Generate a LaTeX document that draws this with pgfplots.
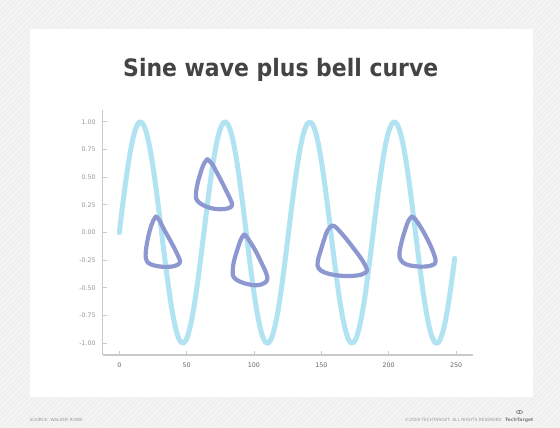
\documentclass[border=0pt]{standalone}
\usepackage{fontspec}
\setmainfont{DejaVu Sans}
\usepackage{graphicx}
\usepackage{pgfplots}
\pgfplotsset{compat=1.18}

\definecolor{bggray}{HTML}{EFEFEF}
\definecolor{titlegray}{HTML}{444444}
\definecolor{sineblue}{HTML}{B2E3F3}
\definecolor{bellpurple}{HTML}{8E98D0}
\definecolor{axisgray}{HTML}{CACACA}
\definecolor{ylabgray}{HTML}{999999}
\definecolor{xlabgray}{HTML}{666666}
\definecolor{footgray}{HTML}{9A9A9A}

\begin{document}
\begin{tikzpicture}[x=1pt,y=1pt]
% background with faint diagonal stripes
\fill[bggray] (0,0) rectangle (560,428);
\begin{scope}
  \clip (0,0) rectangle (560,428);
  \foreach \i in {-430,-425,...,560}
    \draw[white, opacity=0.45, line width=1.2pt] (\i,0) -- ++(428,428);
\end{scope}
\fill[white] (29.5,31) rectangle (533,399);

% title
\node[anchor=base, text=titlegray, inner sep=0pt] at (280.7,351.3)
  {\resizebox{315pt}{\height}{\fontsize{24}{28}\selectfont\bfseries Sine wave plus bell curve}};

% footer
\node[anchor=base west, inner sep=0pt, text=footgray, font=\fontsize{4.3}{5}\selectfont] at (29.5,6.5) {SOURCE: WALKER ROWE};
\node[anchor=base east, inner sep=0pt, text=footgray, font=\fontsize{4.3}{5}\selectfont] at (502,6.5) {\textcopyright 2019 TECHTARGET. ALL RIGHTS RESERVED};
\node[anchor=base west, inner sep=0pt, text=gray, font=\fontsize{4.6}{5}\selectfont\bfseries] at (505,6.5) {TechTarget};
\draw[gray, line width=0.6pt] (519.5,16) ellipse (3.2 and 1.6);
\fill[gray] (519.5,16) circle (0.9);

\begin{axis}[
    at={(102.7pt,73pt)}, anchor=south west,
    scale only axis,
    width=370.3pt, height=245pt,
    xmin=-12.3, xmax=262.6,
    ymin=-1.106, ymax=1.108,
    axis x line*=bottom, axis y line*=left,
    axis line style={axisgray, line width=1.2pt},
    tick style={axisgray, line width=0.9pt},
    tick align=inside,
    major tick length=4pt,
    xtick={0,50,...,250},
    ytick={-1,-0.75,...,1},
    /pgf/number format/assume math mode=true,
    yticklabel style={/pgf/number format/.cd, fixed, fixed zerofill, precision=2, /tikz/.cd,
      font=\fontsize{6.3}{7}\selectfont, text=ylabgray, xshift=-3.5pt},
    xticklabel style={font=\fontsize{6.3}{7}\selectfont, text=xlabgray, yshift=-4.4pt},
    clip=false,
  ]
  \addplot[sineblue, line width=5pt, line cap=round, line join=round, smooth] coordinates {
    (0,0) (2,0.1987) (4,0.3894) (6,0.5646) (8,0.7174) (10,0.8415) (12,0.9320) (14,0.9854)
    (16,0.9996) (18,0.9738) (20,0.9093) (22,0.8085) (24,0.6755) (26,0.5155) (28,0.3350)
    (30,0.1411) (32,-0.0584) (34,-0.2555) (36,-0.4425) (38,-0.6119) (40,-0.7568) (42,-0.8716)
    (44,-0.9516) (46,-0.9937) (48,-0.9962) (50,-0.9589) (52,-0.8835) (54,-0.7728) (56,-0.6313)
    (58,-0.4646) (60,-0.2794) (62,-0.0831) (64,0.1165) (66,0.3115) (68,0.4941) (70,0.6570)
    (72,0.7937) (74,0.8987) (76,0.9679) (78,0.9985) (80,0.9894) (82,0.9407) (84,0.8546)
    (86,0.7344) (88,0.5849) (90,0.4121) (92,0.2229) (94,0.0248) (96,-0.1743) (98,-0.3665)
    (100,-0.5440) (102,-0.6999) (104,-0.8278) (106,-0.9228) (108,-0.9809) (110,-1.0000)
    (112,-0.9792) (114,-0.9193) (116,-0.8228) (118,-0.6935) (120,-0.5366) (122,-0.3582)
    (124,-0.1656) (126,0.0336) (128,0.2315) (130,0.4202) (132,0.5921) (134,0.7404)
    (136,0.8592) (138,0.9437) (140,0.9906) (142,0.9980) (144,0.9656) (146,0.8950)
    (148,0.7887) (150,0.6503) (152,0.4864) (154,0.3035) (156,0.1078) (158,-0.0918)
    (160,-0.2879) (162,-0.4718) (164,-0.6378) (166,-0.7777) (168,-0.8860) (170,-0.9614)
    (172,-0.9969) (174,-0.9927) (176,-0.9488) (178,-0.8674) (180,-0.7510) (182,-0.6094)
    (184,-0.4346) (186,-0.2474) (188,-0.0496) (190,0.1499) (192,0.3433) (194,0.5231)
    (196,0.6819) (198,0.8136) (200,0.9129) (202,0.9758) (204,0.9998) (206,0.9839)
    (208,0.9290) (210,0.8367) (212,0.7117) (214,0.5573) (216,0.3813) (218,0.1897)
    (220,-0.0089) (222,-0.2073) (224,-0.3972) (226,-0.5713) (228,-0.7226) (230,-0.8462)
    (232,-0.9347) (234,-0.9870) (236,-0.9998) (238,-0.9718) (240,-0.9056) (242,-0.8041)
    (244,-0.6695) (246,-0.5077) (248,-0.3268) (249,-0.2324)
  };
  % bell curve loops
  \pgfplotsset{bell/.style={bellpurple, line width=4.2pt, line cap=round, line join=round, smooth, tension=0.7}}
  \addplot[bell] coordinates {
    (27.2,0.145) (25.2,0.108) (22.8,0.024) (20.8,-0.081) (19.6,-0.187) (20.3,-0.253)
    (23.3,-0.286) (29.0,-0.304) (35.1,-0.310) (41.3,-0.301) (45.0,-0.271) (44.1,-0.223)
    (41.3,-0.151) (37.6,-0.066) (33.2,0.030) (29.7,0.114) (27.2,0.145)
  };
  \addplot[bell] coordinates {
    (65.3,0.663) (62.4,0.611) (59.9,0.521) (57.9,0.431) (56.9,0.340) (57.9,0.289)
    (62.4,0.247) (68.6,0.220) (74.8,0.211) (80.9,0.220) (83.7,0.247) (82.7,0.295)
    (79.7,0.370) (76.0,0.461) (71.8,0.557) (68.6,0.627) (65.3,0.663)
  };
  \addplot[bell] coordinates {
    (92.6,-0.018) (90.1,-0.066) (87.6,-0.157) (85.1,-0.262) (84.2,-0.352) (85.1,-0.404)
    (89.6,-0.443) (95.8,-0.467) (102.0,-0.476) (107.4,-0.458) (109.9,-0.422) (108.9,-0.361)
    (105.7,-0.277) (101.5,-0.172) (97.0,-0.081) (94.1,-0.030) (92.6,-0.018)
  };
  \addplot[bell] coordinates {
    (157.5,0.060) (154.5,0.018) (152.0,-0.066) (149.3,-0.172) (147.3,-0.262) (148.0,-0.322)
    (152.5,-0.361) (160.0,-0.383) (168.7,-0.392) (177.4,-0.386) (183.1,-0.358) (183.6,-0.322)
    (179.9,-0.241) (174.9,-0.157) (168.7,-0.060) (163.2,0.018) (159.5,0.060) (157.5,0.060)
  };
  \addplot[bell] coordinates {
    (217.2,0.145) (214.7,0.108) (212.2,0.024) (209.7,-0.081) (208.0,-0.187) (209.0,-0.247)
    (212.9,-0.286) (219.7,-0.304) (227.1,-0.307) (232.8,-0.292) (234.8,-0.262) (233.8,-0.202)
    (230.8,-0.111) (226.4,-0.006) (221.6,0.090) (218.4,0.139) (217.2,0.145)
  };
\end{axis}
\end{tikzpicture}
\end{document}
